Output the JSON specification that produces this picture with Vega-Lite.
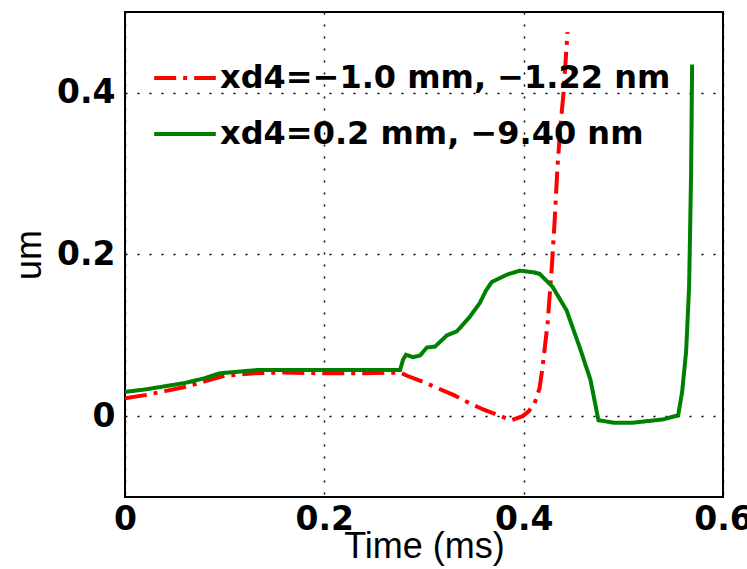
{
  "$schema": "https://vega.github.io/schema/vega-lite/v6.json",
  "width": 598,
  "height": 485,
  "autosize": {"type": "none"},
  "padding": {"left": 125, "top": 12, "right": 24, "bottom": 72},
  "background": "white",
  "config": {
    "view": {"stroke": "black", "strokeWidth": 2},
    "axis": {
      "domain": false,
      "ticks": false,
      "grid": true,
      "gridColor": "black",
      "gridOpacity": 1,
      "gridWidth": 1.5,
      "gridDash": [2, 10],
      "labelFont": "DejaVu Sans",
      "labelFontWeight": "bold",
      "labelFontSize": 33,
      "labelColor": "black",
      "titleFont": "Liberation Sans",
      "titleFontWeight": "normal",
      "titleFontSize": 36,
      "titleColor": "black"
    }
  },
  "data": {
    "values": [
      {"series": "xd4=−1.0 mm, −1.22 nm", "t": 0, "y": 0.022},
      {"series": "xd4=−1.0 mm, −1.22 nm", "t": 0.02, "y": 0.026},
      {"series": "xd4=−1.0 mm, −1.22 nm", "t": 0.04, "y": 0.031},
      {"series": "xd4=−1.0 mm, −1.22 nm", "t": 0.06, "y": 0.036},
      {"series": "xd4=−1.0 mm, −1.22 nm", "t": 0.08, "y": 0.043},
      {"series": "xd4=−1.0 mm, −1.22 nm", "t": 0.1, "y": 0.05},
      {"series": "xd4=−1.0 mm, −1.22 nm", "t": 0.13, "y": 0.053},
      {"series": "xd4=−1.0 mm, −1.22 nm", "t": 0.16, "y": 0.054},
      {"series": "xd4=−1.0 mm, −1.22 nm", "t": 0.2, "y": 0.053},
      {"series": "xd4=−1.0 mm, −1.22 nm", "t": 0.24, "y": 0.053},
      {"series": "xd4=−1.0 mm, −1.22 nm", "t": 0.276, "y": 0.054},
      {"series": "xd4=−1.0 mm, −1.22 nm", "t": 0.283, "y": 0.05},
      {"series": "xd4=−1.0 mm, −1.22 nm", "t": 0.3, "y": 0.042},
      {"series": "xd4=−1.0 mm, −1.22 nm", "t": 0.313, "y": 0.035},
      {"series": "xd4=−1.0 mm, −1.22 nm", "t": 0.33, "y": 0.026},
      {"series": "xd4=−1.0 mm, −1.22 nm", "t": 0.346, "y": 0.016},
      {"series": "xd4=−1.0 mm, −1.22 nm", "t": 0.36, "y": 0.008},
      {"series": "xd4=−1.0 mm, −1.22 nm", "t": 0.379, "y": -0.001},
      {"series": "xd4=−1.0 mm, −1.22 nm", "t": 0.388, "y": -0.005},
      {"series": "xd4=−1.0 mm, −1.22 nm", "t": 0.399, "y": 0.0},
      {"series": "xd4=−1.0 mm, −1.22 nm", "t": 0.405, "y": 0.006},
      {"series": "xd4=−1.0 mm, −1.22 nm", "t": 0.411, "y": 0.016},
      {"series": "xd4=−1.0 mm, −1.22 nm", "t": 0.416, "y": 0.035},
      {"series": "xd4=−1.0 mm, −1.22 nm", "t": 0.419, "y": 0.061},
      {"series": "xd4=−1.0 mm, −1.22 nm", "t": 0.424, "y": 0.115},
      {"series": "xd4=−1.0 mm, −1.22 nm", "t": 0.428, "y": 0.18},
      {"series": "xd4=−1.0 mm, −1.22 nm", "t": 0.431, "y": 0.24},
      {"series": "xd4=−1.0 mm, −1.22 nm", "t": 0.434, "y": 0.31},
      {"series": "xd4=−1.0 mm, −1.22 nm", "t": 0.437, "y": 0.36},
      {"series": "xd4=−1.0 mm, −1.22 nm", "t": 0.44, "y": 0.4},
      {"series": "xd4=−1.0 mm, −1.22 nm", "t": 0.444, "y": 0.475},
      {"series": "xd4=0.2 mm, −9.40 nm", "t": 0, "y": 0.03},
      {"series": "xd4=0.2 mm, −9.40 nm", "t": 0.02, "y": 0.033},
      {"series": "xd4=0.2 mm, −9.40 nm", "t": 0.04, "y": 0.037},
      {"series": "xd4=0.2 mm, −9.40 nm", "t": 0.06, "y": 0.041},
      {"series": "xd4=0.2 mm, −9.40 nm", "t": 0.08, "y": 0.047},
      {"series": "xd4=0.2 mm, −9.40 nm", "t": 0.095, "y": 0.053},
      {"series": "xd4=0.2 mm, −9.40 nm", "t": 0.132, "y": 0.057},
      {"series": "xd4=0.2 mm, −9.40 nm", "t": 0.2, "y": 0.057},
      {"series": "xd4=0.2 mm, −9.40 nm", "t": 0.276, "y": 0.057},
      {"series": "xd4=0.2 mm, −9.40 nm", "t": 0.279, "y": 0.07},
      {"series": "xd4=0.2 mm, −9.40 nm", "t": 0.282, "y": 0.076},
      {"series": "xd4=0.2 mm, −9.40 nm", "t": 0.289, "y": 0.073},
      {"series": "xd4=0.2 mm, −9.40 nm", "t": 0.296, "y": 0.075},
      {"series": "xd4=0.2 mm, −9.40 nm", "t": 0.303, "y": 0.085},
      {"series": "xd4=0.2 mm, −9.40 nm", "t": 0.311, "y": 0.086},
      {"series": "xd4=0.2 mm, −9.40 nm", "t": 0.323, "y": 0.1},
      {"series": "xd4=0.2 mm, −9.40 nm", "t": 0.333, "y": 0.105},
      {"series": "xd4=0.2 mm, −9.40 nm", "t": 0.346, "y": 0.123},
      {"series": "xd4=0.2 mm, −9.40 nm", "t": 0.356, "y": 0.14},
      {"series": "xd4=0.2 mm, −9.40 nm", "t": 0.362, "y": 0.155},
      {"series": "xd4=0.2 mm, −9.40 nm", "t": 0.368, "y": 0.166},
      {"series": "xd4=0.2 mm, −9.40 nm", "t": 0.383, "y": 0.175},
      {"series": "xd4=0.2 mm, −9.40 nm", "t": 0.396, "y": 0.18},
      {"series": "xd4=0.2 mm, −9.40 nm", "t": 0.41, "y": 0.178},
      {"series": "xd4=0.2 mm, −9.40 nm", "t": 0.416, "y": 0.176},
      {"series": "xd4=0.2 mm, −9.40 nm", "t": 0.429, "y": 0.16},
      {"series": "xd4=0.2 mm, −9.40 nm", "t": 0.443, "y": 0.131},
      {"series": "xd4=0.2 mm, −9.40 nm", "t": 0.456, "y": 0.086},
      {"series": "xd4=0.2 mm, −9.40 nm", "t": 0.467, "y": 0.045},
      {"series": "xd4=0.2 mm, −9.40 nm", "t": 0.475, "y": -0.005},
      {"series": "xd4=0.2 mm, −9.40 nm", "t": 0.49, "y": -0.008},
      {"series": "xd4=0.2 mm, −9.40 nm", "t": 0.51, "y": -0.008},
      {"series": "xd4=0.2 mm, −9.40 nm", "t": 0.525, "y": -0.006},
      {"series": "xd4=0.2 mm, −9.40 nm", "t": 0.54, "y": -0.004},
      {"series": "xd4=0.2 mm, −9.40 nm", "t": 0.555, "y": 0.001},
      {"series": "xd4=0.2 mm, −9.40 nm", "t": 0.559, "y": 0.03},
      {"series": "xd4=0.2 mm, −9.40 nm", "t": 0.563, "y": 0.08},
      {"series": "xd4=0.2 mm, −9.40 nm", "t": 0.566, "y": 0.16},
      {"series": "xd4=0.2 mm, −9.40 nm", "t": 0.568, "y": 0.3},
      {"series": "xd4=0.2 mm, −9.40 nm", "t": 0.569, "y": 0.435}
    ]
  },
  "mark": {"type": "line", "strokeWidth": 4, "clip": true},
  "encoding": {
    "x": {
      "field": "t",
      "type": "quantitative",
      "scale": {"domain": [0, 0.6], "nice": false, "zero": false},
      "axis": {"values": [0, 0.2, 0.4, 0.6], "format": "~g", "title": "Time (ms)", "labelPadding": 6, "titlePadding": -7, "labelFlush": false}
    },
    "y": {
      "field": "y",
      "type": "quantitative",
      "scale": {"domain": [-0.1, 0.5], "nice": false, "zero": false},
      "axis": {"values": [0, 0.2, 0.4], "format": "~g", "title": "um", "labelPadding": 10, "titlePadding": 8}
    },
    "color": {
      "field": "series",
      "type": "nominal",
      "scale": {"domain": ["xd4=−1.0 mm, −1.22 nm", "xd4=0.2 mm, −9.40 nm"], "range": ["#ff0000", "#008000"]},
      "legend": {
        "title": null,
        "orient": "none",
        "legendX": 27,
        "legendY": 33,
        "symbolType": "stroke",
        "symbolSize": 3800,
        "symbolStrokeWidth": 4,
        "labelFont": "DejaVu Sans",
        "labelFontWeight": "bold",
        "labelFontSize": 32,
        "labelColor": "black",
        "labelOffset": 2,
        "labelLimit": 600,
        "rowPadding": 7
      }
    },
    "strokeDash": {
      "field": "series",
      "type": "nominal",
      "scale": {"domain": ["xd4=−1.0 mm, −1.22 nm", "xd4=0.2 mm, −9.40 nm"], "range": [[22, 7, 4, 7], [1, 0]]},
      "legend": {
        "title": null,
        "orient": "none",
        "legendX": 27,
        "legendY": 33,
        "symbolType": "stroke",
        "symbolSize": 3800,
        "symbolStrokeWidth": 4,
        "labelFont": "DejaVu Sans",
        "labelFontWeight": "bold",
        "labelFontSize": 32,
        "labelColor": "black",
        "labelOffset": 2,
        "labelLimit": 600,
        "rowPadding": 7
      }
    }
  }
}
